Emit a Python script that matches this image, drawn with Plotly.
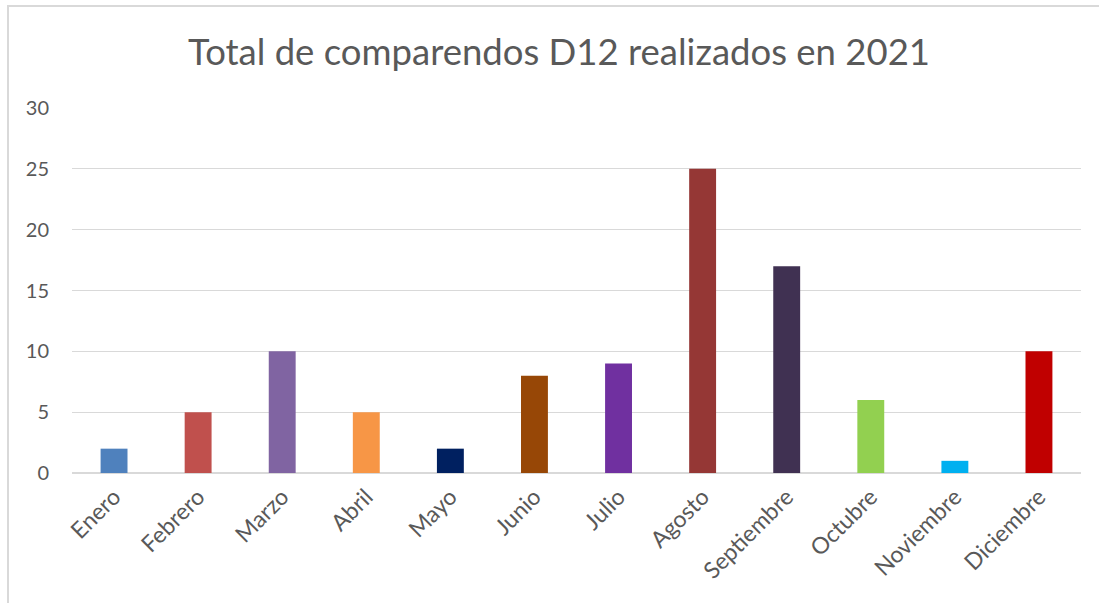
import plotly.graph_objects as go

months = ["Enero", "Febrero", "Marzo", "Abril", "Mayo", "Junio", "Julio",
          "Agosto", "Septiembre", "Octubre", "Noviembre", "Diciembre"]
values = [2, 5, 10, 5, 2, 8, 9, 25, 17, 6, 1, 10]
colors = ["#4F81BD", "#C0504D", "#8064A2", "#F79646", "#002060", "#974706",
          "#7030A0", "#953735", "#403152", "#92D050", "#00B0F0", "#C00000"]
y_ticks = [0, 5, 10, 15, 20, 25, 30]

FONT = "Lato"
GRAY = "#595959"

fig = go.Figure()
fig.add_trace(go.Bar(x=months, y=values, marker=dict(color=colors, line=dict(width=0)),
                     width=0.32, hoverinfo="x+y"))

W, H = 1099, 603
L, T = 72, 108
pw, ph = 1009, 365
R = W - L - pw
B = H - T - ph

def px2paper_x(px):
    return (px - L) / pw

def py2paper_y(py):
    return (T + ph - py) / ph

fig.update_layout(
    width=W, height=H,
    margin=dict(l=L, r=R, t=T, b=B, autoexpand=False),
    paper_bgcolor="white", plot_bgcolor="white",
    showlegend=False,
    title=dict(text="Total de comparendos D12 realizados en 2021",
               font=dict(family=FONT, size=36.5, color=GRAY),
               x=559 / W, xanchor="center", y=1 - 52 / H, yanchor="middle"),
    xaxis=dict(showgrid=False, showline=False, zeroline=False,
               tickangle=-45, tickfont=dict(family=FONT, size=23, color=GRAY),
               ticks="", ticklabelstandoff=5, fixedrange=True),
    yaxis=dict(range=[0, 30], tickvals=y_ticks, showgrid=True, gridcolor="#D9D9D9",
               gridwidth=1, zeroline=True, zerolinecolor="#D9D9D9", zerolinewidth=2,
               showline=False, ticks="", ticklabelstandoff=22,
               tickfont=dict(family=FONT, size=20, color=GRAY), fixedrange=True),
    shapes=[dict(type="rect", xref="paper", yref="paper",
                 x0=px2paper_x(8), x1=px2paper_x(1130),
                 y0=py2paper_y(640), y1=py2paper_y(6),
                 line=dict(color="#D9D9D9", width=2), fillcolor="rgba(0,0,0,0)",
                 layer="below")],
)

fig.write_html("out.html", config={"displayModeBar": False},
               post_script="document.body.style.margin='0';document.body.style.overflow='hidden';")
